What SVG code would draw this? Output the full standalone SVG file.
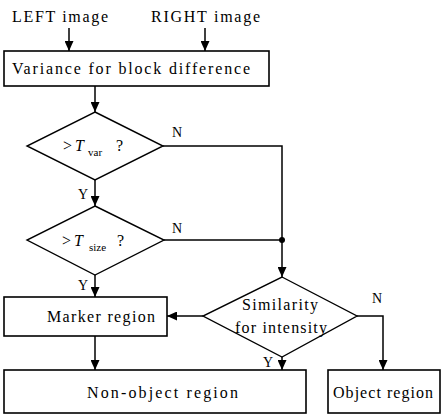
<svg xmlns="http://www.w3.org/2000/svg" width="442" height="418" viewBox="0 0 442 418">
<style>
  .box{fill:#fff;stroke:#000;stroke-width:1.6}
  .dia{fill:#fff;stroke:#000;stroke-width:1.4}
  .ln{fill:none;stroke:#000;stroke-width:1.5}
  .t{font-family:"Liberation Serif","Times New Roman",serif;font-size:16px;fill:#000}
  .s{font-family:"Liberation Serif","Times New Roman",serif;font-size:14px;fill:#000}
  .sub{font-family:"Liberation Serif","Times New Roman",serif;font-size:11px;fill:#000}
  .it{font-style:italic}
</style>
<defs>
  <marker id="ah" markerUnits="userSpaceOnUse" markerWidth="10" markerHeight="9" refX="10" refY="4.5" orient="auto">
    <path d="M0,0 L10,4.5 L0,9 z" fill="#000"/>
  </marker>
</defs>
<rect width="442" height="418" fill="#fff"/>
<g id="connectors">
  <line class="ln" x1="69" y1="28" x2="69" y2="51" marker-end="url(#ah)"/>
  <line class="ln" x1="205" y1="28" x2="205" y2="51" marker-end="url(#ah)"/>
  <line class="ln" x1="95" y1="86" x2="95" y2="112" marker-end="url(#ah)"/>
  <polyline class="ln" points="163,146 282,146 282,240"/>
  <line class="ln" x1="95" y1="180" x2="95" y2="206" marker-end="url(#ah)"/>
  <line class="ln" x1="164" y1="240" x2="282" y2="240"/>
  <circle cx="282" cy="240" r="3" fill="#000"/>
  <line class="ln" x1="282" y1="240" x2="282" y2="277" marker-end="url(#ah)"/>
  <line class="ln" x1="95" y1="275" x2="95" y2="297" marker-end="url(#ah)"/>
  <line class="ln" x1="203" y1="316" x2="167" y2="316" marker-end="url(#ah)"/>
  <line class="ln" x1="95" y1="336" x2="95" y2="370" marker-end="url(#ah)"/>
  <line class="ln" x1="282" y1="357" x2="282" y2="370" marker-end="url(#ah)"/>
  <polyline class="ln" points="357,316 383,316 383,370" marker-end="url(#ah)"/>
  <text class="s" x="172" y="137">N</text>
  <text class="s" x="78" y="199">Y</text>
  <text class="s" x="172" y="233">N</text>
  <text class="s" x="78" y="290">Y</text>
  <text class="s" x="372" y="303">N</text>
  <text class="s" x="263" y="367">Y</text>
</g>
<g id="inputs">
  <text class="t" x="12" y="22" textLength="96" lengthAdjust="spacing">LEFT image</text>
  <text class="t" x="151" y="22" textLength="109" lengthAdjust="spacing">RIGHT image</text>
</g>
<g id="variance">
  <rect class="box" x="4" y="51" width="265" height="35"/>
  <text class="t" x="12" y="74" textLength="238" lengthAdjust="spacing">Variance for block difference</text>
</g>
<g id="tvar">
  <polygon class="dia" points="95,112 163,146 95,180 27,146"/>
  <text class="t" x="63" y="151">&gt;</text>
  <text class="t it" x="75" y="151">T</text>
  <text class="sub" x="88" y="156">var</text>
  <text class="t" x="116" y="151">?</text>
</g>
<g id="tsize">
  <polygon class="dia" points="95,206 164,240 95,275 27,240"/>
  <text class="t" x="62" y="246">&gt;</text>
  <text class="t it" x="74" y="246">T</text>
  <text class="sub" x="89" y="251">size</text>
  <text class="t" x="117" y="246">?</text>
</g>
<g id="similarity">
  <polygon class="dia" points="282,277 357,316 282,357 203,316"/>
  <text class="t" x="242" y="310" textLength="76" lengthAdjust="spacing">Similarity</text>
  <text class="t" x="235" y="333" textLength="92" lengthAdjust="spacing">for intensity</text>
</g>
<g id="marker">
  <rect class="box" x="4" y="297" width="163" height="39"/>
  <text class="t" x="47" y="322" textLength="108" lengthAdjust="spacing">Marker region</text>
</g>
<g id="nonobject">
  <rect class="box" x="4" y="370" width="302" height="43"/>
  <text class="t" x="87" y="398" textLength="151" lengthAdjust="spacing">Non-object region</text>
</g>
<g id="object">
  <rect class="box" x="328" y="370" width="112" height="43"/>
  <text class="t" x="333" y="398" textLength="100" lengthAdjust="spacing">Object region</text>
</g>
</svg>
